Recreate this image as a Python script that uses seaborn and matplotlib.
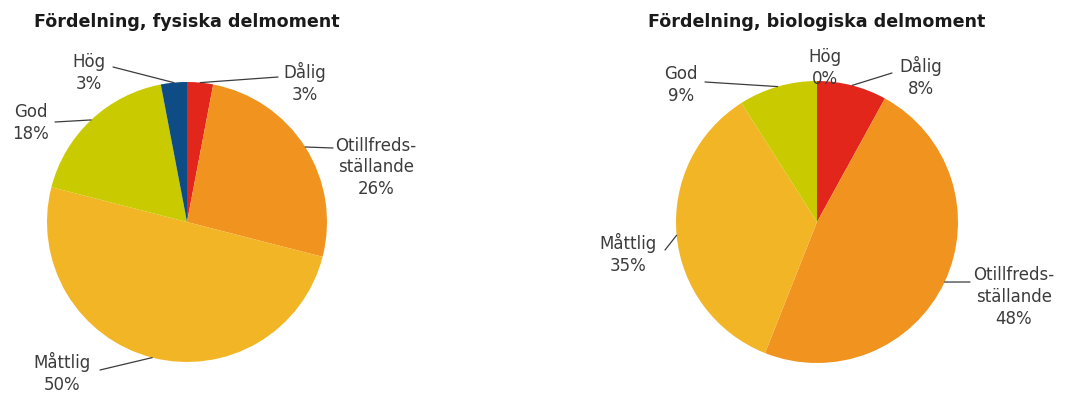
import numpy as np
import matplotlib
matplotlib.use("Agg")
import matplotlib.pyplot as plt
import seaborn as sns

# Share of sub-assessments per status class
categories = ["Dålig", "Otillfreds-\nställande", "Måttlig", "God", "Hög"]
fysiska = [3, 26, 50, 18, 3]
biologiska = [8, 48, 35, 9, 0]
titles = ["Fördelning, fysiska delmoment", "Fördelning, biologiska delmoment"]
colors = ["#E2261C", "#F0931F", "#F2B526", "#CACA00", "#0E4C86"]

sns.set_theme(style="white")
plt.rcParams["font.family"] = ["DejaVu Sans"]

W, H = 1065, 394
fig = plt.figure(figsize=(W / 100, H / 100), dpi=100)
ax = fig.add_axes([0, 0, 1, 1])


def P(x, y):
    """Convert top-left based layout coordinates to axes coordinates."""
    return (x, H - y)


pies = [
    dict(values=fysiska, title=titles[0], center=(187, 222), radius=140,
         title_pos=(187, 22),
         text_pos=[(305, 83), (376, 167), (62, 373), (31, 123), (89, 73)],
         anchors=[(278, 77), (333, 148), (100, 370), (55, 122), (113, 67)]),
    dict(values=biologiska, title=titles[1], center=(817, 222), radius=141,
         title_pos=(817, 22),
         text_pos=[(921, 77), (1014, 297), (628, 254), (681, 85), (825, 68)],
         anchors=[(892, 73), (970, 282), (665, 250), (705, 82), None]),
]

text_color = "#3c3c3c"
for spec in pies:
    cx, cy = P(*spec["center"])
    R = spec["radius"]
    wedges, _ = ax.pie(spec["values"], colors=colors, startangle=90,
                       counterclock=False, center=(cx, cy), radius=R,
                       wedgeprops=dict(linewidth=0), frame=True)
    ax.text(*P(*spec["title_pos"]), spec["title"], ha="center", va="center",
            fontsize=12.6, fontweight="bold", color="#1a1a1a")
    for w, cat, val, tp, anc in zip(wedges, categories, spec["values"],
                                    spec["text_pos"], spec["anchors"]):
        ax.text(*P(*tp), f"{cat}\n{val}%", ha="center", va="center",
                fontsize=12, color=text_color, linespacing=1.25)
        if anc is not None:
            mid = np.deg2rad((w.theta1 + w.theta2) / 2)
            ex, ey = cx + R * np.cos(mid), cy + R * np.sin(mid)
            ax.plot([P(*anc)[0], ex], [P(*anc)[1], ey], color="#3c3c3c",
                    linewidth=0.9)

ax.set_xlim(0, W)
ax.set_ylim(0, H)
ax.set_aspect("equal")
ax.axis("off")
fig.savefig("out.png", dpi=100, facecolor="white")
